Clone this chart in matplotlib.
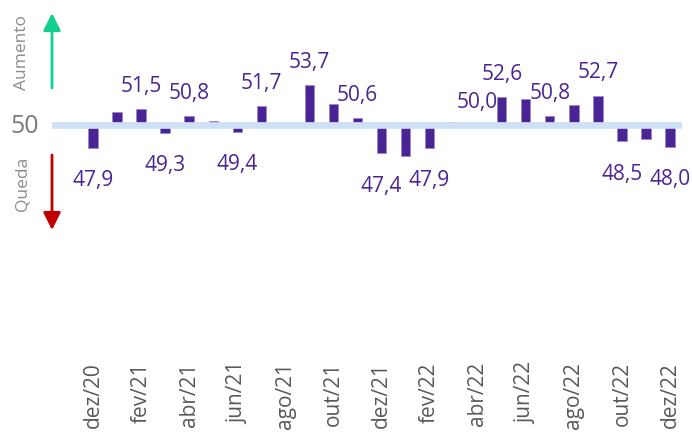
import matplotlib
matplotlib.use('Agg')
import matplotlib.pyplot as plt

# Meses (dez/20 a dez/22) e valores do índice
meses = ['dez/20', 'jan/21', 'fev/21', 'mar/21', 'abr/21', 'mai/21', 'jun/21',
         'jul/21', 'ago/21', 'set/21', 'out/21', 'nov/21', 'dez/21', 'jan/22',
         'fev/22', 'mar/22', 'abr/22', 'mai/22', 'jun/22', 'jul/22', 'ago/22',
         'set/22', 'out/22', 'nov/22', 'dez/22']
valores = [47.9, 51.2, 51.5, 49.3, 50.8, 50.4, 49.4, 51.7, 50.0, 53.7, 51.9, 50.6,
           47.4, 47.2, 47.9, 50.3, 50.0, 52.6, 52.4, 50.8, 51.8, 52.7, 48.5, 48.7, 48.0]
# meses com rótulo de valor
rotulados = ['dez/20', 'fev/21', 'mar/21', 'abr/21', 'jun/21', 'jul/21', 'set/21',
             'nov/21', 'dez/21', 'fev/22', 'abr/22', 'mai/22', 'jul/22', 'set/22',
             'out/22', 'dez/22']
base = 50

plt.rcParams['font.family'] = ['Open Sans', 'DejaVu Sans']

W, H = 692, 441
fig = plt.figure(figsize=(W / 100, H / 100), dpi=100)
ax = fig.add_axes([52 / W, 1 - 358 / H, (682 - 52) / W, 358 / H])

roxo = '#4a2494'
x = list(range(len(meses)))
alturas = [v - base for v in valores]
ax.bar(x, alturas, bottom=base, width=0.39, color=roxo, edgecolor='#9a88cc',
       linewidth=0.6, zorder=2)
ax.axhline(base, color='#cfe1f6', linewidth=4.8, zorder=3)

for i, (m, v) in enumerate(zip(meses, valores)):
    if m not in rotulados:
        continue
    txt = f'{v:.1f}'.replace('.', ',')
    dy = 12.3 if v >= base else -27.5
    ax.annotate(txt, (i, v), xytext=(0, dy), textcoords='offset points',
                ha='center', va='baseline', fontsize=15, color=roxo, zorder=4)

ax.set_xlim(-1.706, 24.5)
px_unit = 10.9
ax.set_ylim(base - 233 / px_unit, base + 125 / px_unit)

ax.set_xticks(x[::2])
ax.set_xticklabels(meses[::2], rotation=90, fontsize=15, color='#595959')
ax.tick_params(axis='x', length=0, pad=3)
ax.set_yticks([])
for s in ax.spines.values():
    s.set_visible(False)

# rótulo do eixo e setas de aumento / queda
fig.text(25 / W, 1 - 133 / H, '50', ha='center', va='baseline', fontsize=18, color='#7a7a7a')
fig.text(22 / W, 1 - 52 / H, 'Aumento', rotation=90, ha='center', va='center',
         fontsize=12.5, color='#8c8c8c')
fig.text(22 / W, 1 - 184 / H, 'Queda', rotation=90, ha='center', va='center',
         fontsize=12.5, color='#8c8c8c')
seta = '-|>,head_length=0.75,head_width=0.375'
ax.annotate('', xy=(52, H - 13), xytext=(52, H - 88), xycoords='figure pixels',
            arrowprops=dict(arrowstyle=seta, color='#13cf8e', lw=2, mutation_scale=14,
                            shrinkA=0, shrinkB=0))
ax.annotate('', xy=(52, H - 230), xytext=(52, H - 155), xycoords='figure pixels',
            arrowprops=dict(arrowstyle=seta, color='#c00000', lw=2, mutation_scale=14,
                            shrinkA=0, shrinkB=0))

fig.savefig('out.png', dpi=100)
